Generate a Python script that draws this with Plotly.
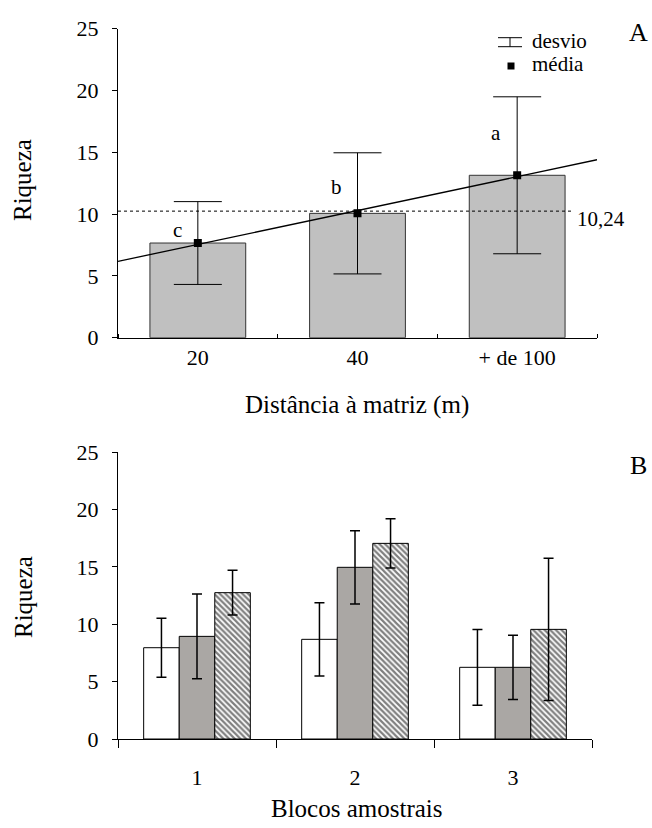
import numpy as np
import plotly.graph_objects as go

# ---------- data ----------
dist_labels = ["20", "40", "+ de 100"]
dist_means = [7.66, 10.06, 13.14]
dist_sd = [3.35, 4.9, 6.35]
dist_letters = ["c", "b", "a"]
overall_mean = 10.24

block_labels = ["1", "2", "3"]
series_white = [7.96, 8.69, 6.25]
series_white_sd = [2.57, 3.2, 3.3]
series_gray = [8.95, 14.97, 6.25]
series_gray_sd = [3.7, 3.2, 2.8]
series_hatch = [12.76, 17.06, 9.56]
series_hatch_sd = [1.95, 2.15, 6.2]

W, H = 652, 828
FONT = "Liberation Serif"

def px_x(p):
    return p / W

def px_y(p):
    return 1 - p / H

xa = list(range(len(dist_labels)))
xb = list(range(len(block_labels)))

fig = go.Figure()

# ---------- Panel A ----------
fig.add_trace(go.Bar(
    x=xa, y=dist_means, width=0.6, xaxis="x", yaxis="y",
    marker=dict(color="#c0c0c0", line=dict(color="#333333", width=1)),
    showlegend=False, hoverinfo="skip"))

# regression line (fit to the means)
coef = np.polyfit(xa, dist_means, 1)
xl = np.array([-0.5, len(xa) - 0.5])
fig.add_trace(go.Scatter(
    x=xl, y=np.polyval(coef, xl), mode="lines", xaxis="x", yaxis="y",
    line=dict(color="black", width=1.3), showlegend=False, hoverinfo="skip"))

fig.add_trace(go.Scatter(
    x=xa, y=dist_means, mode="markers", xaxis="x", yaxis="y",
    marker=dict(symbol="square", color="black", size=8),
    error_y=dict(type="data", array=dist_sd, visible=True, color="black",
                 thickness=1, width=24),
    showlegend=False, hoverinfo="skip"))

# ---------- Panel B ----------
for vals, sds, mk in [
    (series_white, series_white_sd, dict(color="white", line=dict(color="black", width=1))),
    (series_gray, series_gray_sd, dict(color="#aaa7a4", line=dict(color="black", width=1))),
    (series_hatch, series_hatch_sd, dict(color="white", line=dict(color="black", width=1),
                                         pattern=dict(shape="\\", fgcolor="black",
                                                      bgcolor="white", size=4, solidity=0.55))),
]:
    fig.add_trace(go.Bar(
        x=xb, y=vals, xaxis="x2", yaxis="y2", marker=mk,
        error_y=dict(type="data", array=sds, visible=True, color="black",
                     thickness=1.5, width=5),
        showlegend=False, hoverinfo="skip"))

tickfont = dict(family=FONT, size=22, color="black")

common_y = dict(range=[0, 25], tickvals=[0, 5, 10, 15, 20, 25], showgrid=False,
                zeroline=False, showline=True, linecolor="black", linewidth=1,
                ticks="outside", ticklen=5, tickcolor="black", automargin=False,
                tickfont=tickfont, ticklabelstandoff=9)

fig.update_layout(
    width=W, height=H, margin=dict(l=0, r=0, t=0, b=0, autoexpand=False),
    paper_bgcolor="white", plot_bgcolor="white",
    barmode="group", bargap=0.325, bargroupgap=0,
    xaxis=dict(domain=[px_x(118), px_x(597)], anchor="y", range=[-0.5, 2.5],
               tickvals=xa, ticktext=dist_labels, tickfont=tickfont, automargin=False,
               showgrid=False, zeroline=False, showline=True, linecolor="black",
               linewidth=1, ticks="outside", ticklen=0, tickcolor="rgba(0,0,0,0)",
               minor=dict(tick0=0.5, dtick=1, ticks="inside", ticklen=4,
                          tickcolor="black", showgrid=False)),
    yaxis=dict(domain=[px_y(337.7), px_y(28.7)], anchor="x", **common_y),
    xaxis2=dict(domain=[px_x(118), px_x(592)], anchor="y2", range=[-0.5, 2.5],
                tickvals=xb, ticktext=block_labels, tickfont=tickfont, automargin=False,
                showgrid=False, zeroline=False, showline=True, linecolor="black",
                linewidth=1, ticks="outside", ticklen=19, tickcolor="rgba(0,0,0,0)",
                minor=dict(tick0=0.5, dtick=1, ticks="outside", ticklen=8,
                           tickcolor="black", showgrid=False)),
    yaxis2=dict(domain=[px_y(739), px_y(452.3)], anchor="x2", **common_y),
)

# mean line
fig.add_shape(type="line", xref="x", yref="y", x0=-0.5, x1=2.34,
              y0=overall_mean, y1=overall_mean,
              line=dict(color="black", width=1, dash="dot"))
fig.add_annotation(xref="x", yref="y", x=2.36, y=overall_mean, yshift=-8,
                   text=f"{overall_mean:.2f}".replace(".", ","), showarrow=False,
                   xanchor="left", yanchor="middle",
                   font=dict(family=FONT, size=21, color="black"))

# significance letters
letter_pos_y = [8.7, 12.2, 16.6]
for i, (lt, ly) in enumerate(zip(dist_letters, letter_pos_y)):
    fig.add_annotation(xref="x", yref="y", x=i - 0.13, y=ly, text=lt,
                       xanchor="center", yanchor="middle",
                       showarrow=False, font=dict(family=FONT, size=21, color="black"))

# legend (manual)
fig.add_shape(type="line", xref="paper", yref="paper", x0=px_x(498), x1=px_x(522),
              y0=px_y(37.7), y1=px_y(37.7), line=dict(color="black", width=1))
fig.add_shape(type="line", xref="paper", yref="paper", x0=px_x(498), x1=px_x(522),
              y0=px_y(46.7), y1=px_y(46.7), line=dict(color="black", width=1))
fig.add_shape(type="line", xref="paper", yref="paper", x0=px_x(510), x1=px_x(510),
              y0=px_y(37.7), y1=px_y(46.7), line=dict(color="black", width=1))
fig.add_shape(type="rect", xref="paper", yref="paper", x0=px_x(507.5), x1=px_x(514.5),
              y0=px_y(62.5), y1=px_y(69.5), fillcolor="black", line=dict(width=0))
fig.add_annotation(xref="paper", yref="paper", x=px_x(530), y=px_y(41), text="desvio",
                   showarrow=False, xanchor="left", yanchor="middle",
                   font=dict(family=FONT, size=21, color="black"))
fig.add_annotation(xref="paper", yref="paper", x=px_x(530), y=px_y(64), text="média",
                   showarrow=False, xanchor="left", yanchor="middle",
                   font=dict(family=FONT, size=21, color="black"))

# panel letters
fig.add_annotation(xref="paper", yref="paper", x=px_x(638), y=px_y(33), text="A",
                   xanchor="center", yanchor="middle",
                   showarrow=False, font=dict(family=FONT, size=26, color="black"))
fig.add_annotation(xref="paper", yref="paper", x=px_x(638), y=px_y(465), text="B",
                   xanchor="center", yanchor="middle",
                   showarrow=False, font=dict(family=FONT, size=26, color="black"))

# axis titles
title_font = dict(family=FONT, size=25, color="black")
fig.add_annotation(xref="paper", yref="paper", x=px_x(23), y=px_y(180), text="Riqueza",
                   xanchor="center", yanchor="middle",
                   textangle=-90, showarrow=False, font=title_font)
fig.add_annotation(xref="paper", yref="paper", x=px_x(357), y=px_y(405),
                   xanchor="center", yanchor="middle",
                   text="Distância à matriz (m)", showarrow=False, font=title_font)
fig.add_annotation(xref="paper", yref="paper", x=px_x(23), y=px_y(597), text="Riqueza",
                   xanchor="center", yanchor="middle",
                   textangle=-90, showarrow=False, font=title_font)
fig.add_annotation(xref="paper", yref="paper", x=px_x(357), y=px_y(808),
                   xanchor="center", yanchor="middle",
                   text="Blocos amostrais", showarrow=False, font=title_font)

fig.write_html("out.html")
